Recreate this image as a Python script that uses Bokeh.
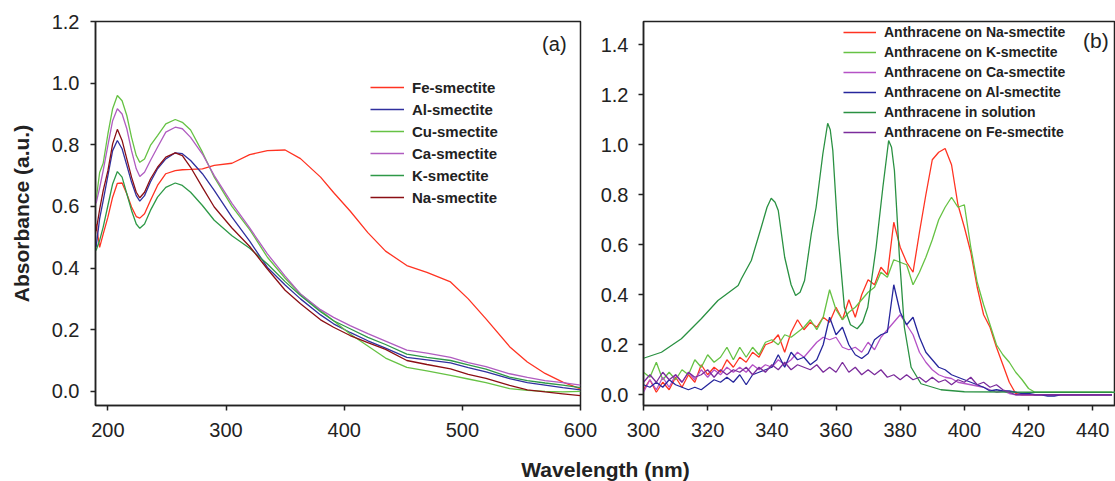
from bokeh.plotting import figure
from bokeh.models import Range1d, FixedTicker, PrintfTickFormatter, Label
from bokeh.layouts import row, column
from bokeh.embed import file_html
from bokeh.resources import INLINE

# ---------------- Panel (a) data ----------------
wl_a = [190, 193, 196, 200, 204, 208, 212, 216, 220, 224, 227, 231, 236, 242, 249, 257, 263, 270, 280, 290,
        305, 320, 335, 350, 363, 380, 391, 405, 420, 435, 453, 470, 490, 505, 520, 540, 555, 570, 585, 600]
fe_a = [0.543, 0.467, 0.51, 0.565, 0.63, 0.675, 0.676, 0.641, 0.598, 0.567, 0.562, 0.576, 0.619, 0.668, 0.706, 0.716, 0.719, 0.72, 0.722, 0.733,
        0.74, 0.768, 0.781, 0.783, 0.755, 0.695, 0.645, 0.585, 0.515, 0.455, 0.408, 0.386, 0.355, 0.30, 0.235, 0.145, 0.095, 0.058, 0.03, 0.008]
al_a = [0.468, 0.56, 0.619, 0.70, 0.781, 0.814, 0.787, 0.733, 0.679, 0.635, 0.617, 0.635, 0.679, 0.722, 0.754, 0.774, 0.771, 0.749, 0.706, 0.652,
        0.565, 0.487, 0.402, 0.345, 0.30, 0.248, 0.219, 0.191, 0.164, 0.14, 0.11, 0.102, 0.092, 0.077, 0.063, 0.041, 0.028, 0.02, 0.012, 0.005]
cu_a = [0.62, 0.71, 0.74, 0.835, 0.917, 0.96, 0.943, 0.895, 0.824, 0.765, 0.743, 0.754, 0.798, 0.83, 0.868, 0.882, 0.873, 0.848, 0.776, 0.695,
        0.60, 0.525, 0.435, 0.367, 0.316, 0.262, 0.229, 0.186, 0.147, 0.108, 0.078, 0.066, 0.052, 0.04, 0.028, 0.009, 0.003, 0.0, -0.002, 0.0]
ca_a = [0.61, 0.66, 0.716, 0.798, 0.878, 0.917, 0.90, 0.852, 0.781, 0.722, 0.697, 0.711, 0.749, 0.792, 0.841, 0.857, 0.852, 0.824, 0.77, 0.70,
        0.61, 0.53, 0.446, 0.374, 0.316, 0.265, 0.24, 0.213, 0.187, 0.163, 0.134, 0.124, 0.11, 0.093, 0.08, 0.057, 0.045, 0.035, 0.028, 0.02]
k_a = [0.457, 0.49, 0.533, 0.603, 0.673, 0.713, 0.695, 0.641, 0.587, 0.543, 0.529, 0.543, 0.587, 0.63, 0.662, 0.676, 0.668, 0.646, 0.603, 0.555,
       0.505, 0.464, 0.413, 0.356, 0.311, 0.258, 0.229, 0.203, 0.175, 0.152, 0.121, 0.11, 0.10, 0.086, 0.072, 0.046, 0.035, 0.027, 0.02, 0.012]
na_a = [0.52, 0.59, 0.651, 0.716, 0.803, 0.85, 0.814, 0.754, 0.695, 0.646, 0.628, 0.646, 0.689, 0.727, 0.76, 0.774, 0.765, 0.727, 0.662, 0.598,
        0.53, 0.47, 0.397, 0.328, 0.284, 0.232, 0.208, 0.181, 0.158, 0.136, 0.10, 0.087, 0.073, 0.055, 0.042, 0.019, 0.005, -0.002, -0.008, -0.014]

names_a = ["Fe-smectite", "Al-smectite", "Cu-smectite", "Ca-smectite", "K-smectite", "Na-smectite"]
colors_a = ["#ff3322", "#30309e", "#66c244", "#b05cc0", "#2e9947", "#8b0f14"]
xticks_a = [200, 300, 400, 500, 600]
yticks_a = [0.0, 0.2, 0.4, 0.6, 0.8, 1.0, 1.2]

# ---------------- Panel (b) data ----------------
wl_sol = [300, 305.6, 311.8, 318, 323.2, 329.5, 330.5, 333.6, 336.7, 338.5, 339.8, 341, 342, 344, 346, 347.4, 348.8, 350.2,
          352.3, 353.8, 355.9, 357.4, 358.2, 359, 360.6, 362.6, 364.5, 366.6, 368.3, 369.9, 372.5, 374.6, 376.4, 377.3,
          378.2, 379.7, 381.3, 383.4, 386.5, 392.7, 400, 420, 447]
sol_b = [0.146, 0.17, 0.224, 0.304, 0.377, 0.437, 0.464, 0.537, 0.67, 0.75, 0.786, 0.77, 0.737, 0.55, 0.44, 0.397, 0.41, 0.457,
         0.644, 0.75, 0.964, 1.086, 1.06, 0.977, 0.644, 0.35, 0.28, 0.264, 0.29, 0.35, 0.59, 0.83, 1.017, 0.99,
         0.897, 0.564, 0.27, 0.11, 0.044, 0.02, 0.012, 0.01, 0.01]

wl_b = [300, 302, 304, 306, 308, 310, 312, 314, 316, 318,
        320, 322, 324, 326, 328, 330, 332, 334, 336, 338,
        340, 342, 344, 346, 348, 350, 352, 354, 356, 358,
        360, 362, 364, 366, 368, 370, 372, 374, 376, 378,
        380, 382, 384, 386, 388, 390, 392, 394, 396, 398,
        400, 402, 404, 406, 408, 410, 412, 414, 416, 418,
        420, 422, 424, 426, 428, 430, 432, 434, 436, 438,
        440, 442, 444, 446]
na_b = [0.02, 0.06, 0.01, 0.05, 0.02, 0.07, 0.03, 0.08, 0.05, 0.12,
        0.08, 0.11, 0.09, 0.14, 0.11, 0.15, 0.13, 0.17, 0.15, 0.20,
        0.21, 0.24, 0.17, 0.25, 0.30, 0.26, 0.29, 0.27, 0.31, 0.29,
        0.35, 0.30, 0.38, 0.31, 0.40, 0.46, 0.44, 0.51, 0.48, 0.69,
        0.59, 0.53, 0.49, 0.65, 0.80, 0.94, 0.97, 0.985, 0.92, 0.76,
        0.67, 0.57, 0.43, 0.32, 0.27, 0.19, 0.12, 0.05, 0.005, 0.0,
        0.0, 0.0, 0.0, 0.0, 0.0, 0.0, 0.0, 0.0, 0.0, 0.0,
        0.0, 0.0, 0.0, 0.0]
k_b = [0.09, 0.07, 0.13, 0.06, 0.09, 0.06, 0.10, 0.08, 0.14, 0.11,
       0.16, 0.13, 0.15, 0.19, 0.14, 0.19, 0.15, 0.19, 0.16, 0.21,
       0.22, 0.20, 0.24, 0.23, 0.25, 0.27, 0.30, 0.26, 0.31, 0.42,
       0.34, 0.30, 0.33, 0.35, 0.38, 0.41, 0.43, 0.49, 0.47, 0.54,
       0.53, 0.52, 0.44, 0.49, 0.55, 0.62, 0.70, 0.75, 0.79, 0.75,
       0.76, 0.59, 0.45, 0.36, 0.28, 0.20, 0.16, 0.13, 0.09, 0.06,
       0.025, 0.01, 0.01, 0.01, 0.01, 0.01, 0.01, 0.01, 0.01, 0.01,
       0.01, 0.01, 0.01, 0.01]
ca_b = [0.01, 0.06, 0.02, 0.07, 0.03, 0.08, 0.05, 0.09, 0.06, 0.10,
        0.07, 0.10, 0.08, 0.11, 0.09, 0.11, 0.09, 0.12, 0.10, 0.12,
        0.11, 0.14, 0.12, 0.14, 0.17, 0.15, 0.18, 0.21, 0.23, 0.22,
        0.23, 0.19, 0.18, 0.19, 0.17, 0.21, 0.18, 0.23, 0.26, 0.29,
        0.32, 0.28, 0.24, 0.17, 0.13, 0.10, 0.08, 0.07, 0.065, 0.05,
        0.045, 0.04, 0.035, 0.03, 0.02, 0.01, 0.015, 0.005, 0.0, 0.0,
        0.0, 0.0, 0.0, 0.0, 0.0, 0.0, 0.0, 0.0, 0.0, 0.0,
        0.0, 0.0, 0.0, 0.0]
al_b = [0.04, 0.03, 0.05, 0.03, 0.06, 0.04, 0.03, 0.02, 0.03, 0.02,
        0.04, 0.06, 0.05, 0.07, 0.05, 0.08, 0.04, 0.08, 0.09, 0.10,
        0.11, 0.16, 0.11, 0.17, 0.14, 0.15, 0.12, 0.14, 0.20, 0.31,
        0.24, 0.27, 0.20, 0.16, 0.145, 0.165, 0.22, 0.24, 0.25, 0.44,
        0.33, 0.28, 0.31, 0.23, 0.17, 0.14, 0.11, 0.10, 0.08, 0.07,
        0.06, 0.05, 0.04, 0.03, 0.015, 0.02, 0.015, 0.015, 0.01, 0.005,
        0.005, 0.0, 0.0, -0.005, -0.005, 0.0, 0.0, 0.0, 0.0, 0.0,
        0.0, 0.0, 0.0, 0.0]
fe_b = [0.05, 0.08, 0.05, 0.09, 0.06, 0.08, 0.05, 0.09, 0.07, 0.08,
        0.10, 0.07, 0.10, 0.08, 0.10, 0.09, 0.11, 0.08, 0.11, 0.09,
        0.12, 0.10, 0.13, 0.10, 0.12, 0.11, 0.10, 0.12, 0.09, 0.11,
        0.09, 0.13, 0.09, 0.11, 0.08, 0.10, 0.08, 0.10, 0.07, 0.08,
        0.06, 0.08, 0.06, 0.07, 0.05, 0.07, 0.05, 0.06, 0.04, 0.06,
        0.05, 0.07, 0.04, 0.05, 0.03, 0.04, 0.02, 0.01, 0.0, 0.0,
        0.0, 0.0, 0.0, 0.0, 0.0, 0.0, 0.0, 0.0, 0.0, 0.0,
        0.0, 0.0, 0.0, 0.0]

names_b = ["Anthracene on Na-smectite", "Anthracene on K-smectite", "Anthracene on Ca-smectite",
           "Anthracene on Al-smectite", "Anthracene in solution", "Anthracene on Fe-smectite"]
colors_b = ["#ff3322", "#66c244", "#b552c6", "#26269c", "#2a9142", "#7b2c9c"]
xticks_b = [300, 320, 340, 360, 380, 400, 420, 440]
yticks_b = [0.0, 0.2, 0.4, 0.6, 0.8, 1.0, 1.2, 1.4]

FONT = "Liberation Sans"
DARK = "#222222"


def style(p, xticks, yticks, ystandoff):
    p.xgrid.visible = False
    p.ygrid.visible = False
    p.xaxis.ticker = FixedTicker(ticks=xticks)
    p.yaxis.ticker = FixedTicker(ticks=yticks)
    p.yaxis.formatter = PrintfTickFormatter(format="%.1f")
    for ax in [p.xaxis[0], p.yaxis[0]]:
        ax.major_tick_in = 0
        ax.major_tick_out = 5
        ax.minor_tick_in = 0
        ax.minor_tick_out = 0
        ax.axis_line_width = 1.5
        ax.axis_line_color = DARK
        ax.major_tick_line_width = 1.5
        ax.major_tick_line_color = DARK
        ax.major_label_text_font = FONT
        ax.major_label_text_font_size = "20px"
        ax.major_label_text_color = DARK
    p.xaxis[0].major_label_standoff = 12
    p.yaxis[0].major_label_standoff = ystandoff
    p.outline_line_color = DARK
    p.outline_line_width = 1.5
    p.outline_line_alpha = 1.0


# ---------------- Figure (a) ----------------
p1 = figure(width=597, height=450, x_range=Range1d(189.5, 600), y_range=Range1d(-0.046, 1.2),
            toolbar_location=None, output_backend="svg",
            min_border_left=95, min_border_right=17, min_border_top=21, min_border_bottom=45)
style(p1, xticks_a, yticks_a, 11)
p1.yaxis.axis_label = "Absorbance (a.u.)"
p1.yaxis.axis_label_text_font = FONT
p1.yaxis.axis_label_text_font_style = "bold"
p1.yaxis.axis_label_text_font_size = "21px"
p1.yaxis.axis_label_text_color = DARK
p1.yaxis.axis_label_standoff = 16

for name, col, ys in zip(names_a, colors_a, [fe_a, al_a, cu_a, ca_a, k_a, na_a]):
    p1.line(wl_a, ys, line_color=col, line_width=1.3, legend_label=name)

leg1 = p1.legend[0]
leg1.location = (275, 198)
leg1.padding = 0
leg1.margin = 0
leg1.spacing = 2
leg1.label_height = 20
leg1.glyph_height = 20
leg1.glyph_width = 34
leg1.label_standoff = 8
leg1.label_text_font = FONT
leg1.label_text_font_style = "bold"
leg1.label_text_font_size = "15px"
leg1.label_text_color = DARK
leg1.border_line_color = None
leg1.background_fill_alpha = 0

p1.add_layout(Label(x=588.2, y=1.1285, text="(a)", text_align="right", text_baseline="middle",
                    text_font=FONT, text_font_size="20px", text_color=DARK))

# ---------------- Figure (b) ----------------
p2 = figure(width=518, height=450, x_range=Range1d(300, 447.1), y_range=Range1d(-0.043, 1.493),
            toolbar_location=None, output_backend="svg",
            min_border_left=45, min_border_right=0, min_border_top=21, min_border_bottom=45)
style(p2, xticks_b, yticks_b, 10)

series_b = [(wl_b, na_b), (wl_b, k_b), (wl_b, ca_b), (wl_b, al_b), (wl_sol, sol_b), (wl_b, fe_b)]
for name, col, (xs, ys) in zip(names_b, colors_b, series_b):
    p2.line(xs, ys, line_color=col, line_width=1.3, legend_label=name)

leg2 = p2.legend[0]
leg2.location = (200, 264)
leg2.padding = 0
leg2.margin = 0
leg2.spacing = 2
leg2.label_height = 18
leg2.glyph_height = 18
leg2.glyph_width = 33
leg2.label_standoff = 8
leg2.label_text_font = FONT
leg2.label_text_font_style = "bold"
leg2.label_text_font_size = "14px"
leg2.label_text_color = DARK
leg2.border_line_color = None
leg2.background_fill_alpha = 0

p2.add_layout(Label(x=437.0, y=1.417, text="(b)", text_align="left", text_baseline="middle",
                    text_font=FONT, text_font_size="21px", text_color=DARK))

# ---------------- shared x-axis title ----------------
p3 = figure(width=1115, height=31, x_range=Range1d(0, 1115), y_range=Range1d(0, 31),
            toolbar_location=None, output_backend="svg", x_axis_type=None, y_axis_type=None,
            min_border=0, outline_line_color=None)
p3.add_layout(Label(x=605, y=12, text="Wavelength (nm)", text_align="center", text_baseline="middle",
                    text_font=FONT, text_font_style="bold", text_font_size="21px", text_color=DARK))

layout = column(row(p1, p2), p3)

with open("out.html", "w") as f:
    f.write(file_html(layout, INLINE))
